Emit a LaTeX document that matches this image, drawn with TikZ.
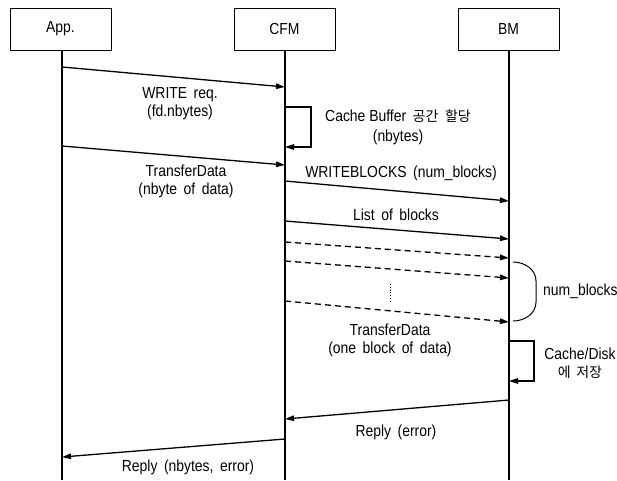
\documentclass[tikz,border=0pt]{standalone}
\usepackage{fontspec}
\setmainfont[FakeStretch=0.87]{Liberation Sans}
\newfontfamily\kr{Noto Sans CJK KR}
\usetikzlibrary{arrows.meta}
\newcommand\hg[1]{{\kr\fontsize{14}{18}\selectfont #1}}
\begin{document}
\begin{tikzpicture}[x=1pt,y=-1pt,
  lbox/.style={draw, line width=0.8pt, minimum width=101pt, minimum height=42pt, inner sep=0pt, font=\fontsize{16}{18}\selectfont},
  life/.style={line width=1.1pt},
  msg/.style={line width=1.3pt, -{Triangle[length=9pt,width=5.5pt]}},
  dmsg/.style={msg, dash pattern=on 6pt off 4pt},
  lbl/.style={font=\fontsize{16}{18}\selectfont, inner sep=1pt, align=center}]
\useasboundingbox (0,0) rectangle (617,480);
% participants
\node[lbox] (app) at (60.5,29) {App.};
\node[lbox] (cfm) at (284.5,29) {CFM};
\node[lbox] (bm)  at (508.5,29) {BM};
\coordinate (appE) at (62,480);
\coordinate (cfmE) at (285,480);
\coordinate (bmE)  at (509,480);
\draw[life] (app.south -| appE) -- (appE);
\draw[life] (cfm.south -| cfmE) -- (cfmE);
\draw[life] (bm.south -| bmE) -- (bmE);
% message points
\coordinate (a1) at (62,67);   \coordinate (c1) at (285,87);
\coordinate (a2) at (62,146);  \coordinate (c2) at (285,165);
\coordinate (c3) at (285,181); \coordinate (b3) at (509,201);
\coordinate (c4) at (285,221); \coordinate (b4) at (509,239);
\coordinate (c5) at (285,242); \coordinate (b5) at (509,258);
\coordinate (c6) at (285,261); \coordinate (b6) at (509,278);
\coordinate (c7) at (285,301); \coordinate (b7) at (509,322);
\coordinate (b8) at (509,400); \coordinate (c8) at (285,419);
\coordinate (c9) at (285,439); \coordinate (a9) at (62,457);
% self loops
\coordinate (s1a) at (285,107); \coordinate (s1b) at (285,147);
\coordinate (s2a) at (509,341); \coordinate (s2b) at (509,381);
% arrows
\draw[msg] (a1) -- (c1);
\node[lbl] (l1) at (180,104) {WRITE \,req.\\(fd.nbytes)};
\draw[msg] (s1a) -- ++(26,0) |- (s1b);
\node[lbl, font=\fontsize{16}{20}\selectfont] (l2) at (398,127) {Cache Buffer \,\hg{공간}\, \hg{할당}\\(nbytes)};
\draw[msg] (a2) -- (c2);
\node[lbl] (l3) at (186,181) {TransferData\\(nbyte \,of \,data)};
\draw[msg] (c3) -- (b3);
\node[lbl] (l4) at (401,173) {WRITEBLOCKS \,(num\_blocks)};
\draw[msg] (c4) -- (b4);
\node[lbl] (l5) at (396,215) {List \,of \,blocks};
\draw[dmsg] (c5) -- (b5);
\draw[dmsg] (c6) -- (b6);
\draw[dmsg] (c7) -- (b7);
\draw[line width=0.8pt, dotted] (390,284) -- (390,301);
\draw[line width=1pt] (513,262) to[out=0,in=90] (536,281) -- (536,302) to[out=-90,in=0] (513,321);
\node[lbl, anchor=west] (l6) at (542,291) {num\_blocks};
\node[lbl] (l7) at (390,340) {TransferData\\(one \,block \,of \,data)};
\draw[msg] (s2a) -- ++(25,0) |- (s2b);
\node[lbl] (l8) at (580,363) {Cache/Disk\\\hg{에 \,저장}};
\draw[msg] (b8) -- (c8);
\node[lbl] (l9) at (396,432) {Reply \,(error)};
\draw[msg] (c9) -- (a9);
\node[lbl] (l10) at (188,467) {Reply \,(nbytes, \,error)};
\end{tikzpicture}
\end{document}
